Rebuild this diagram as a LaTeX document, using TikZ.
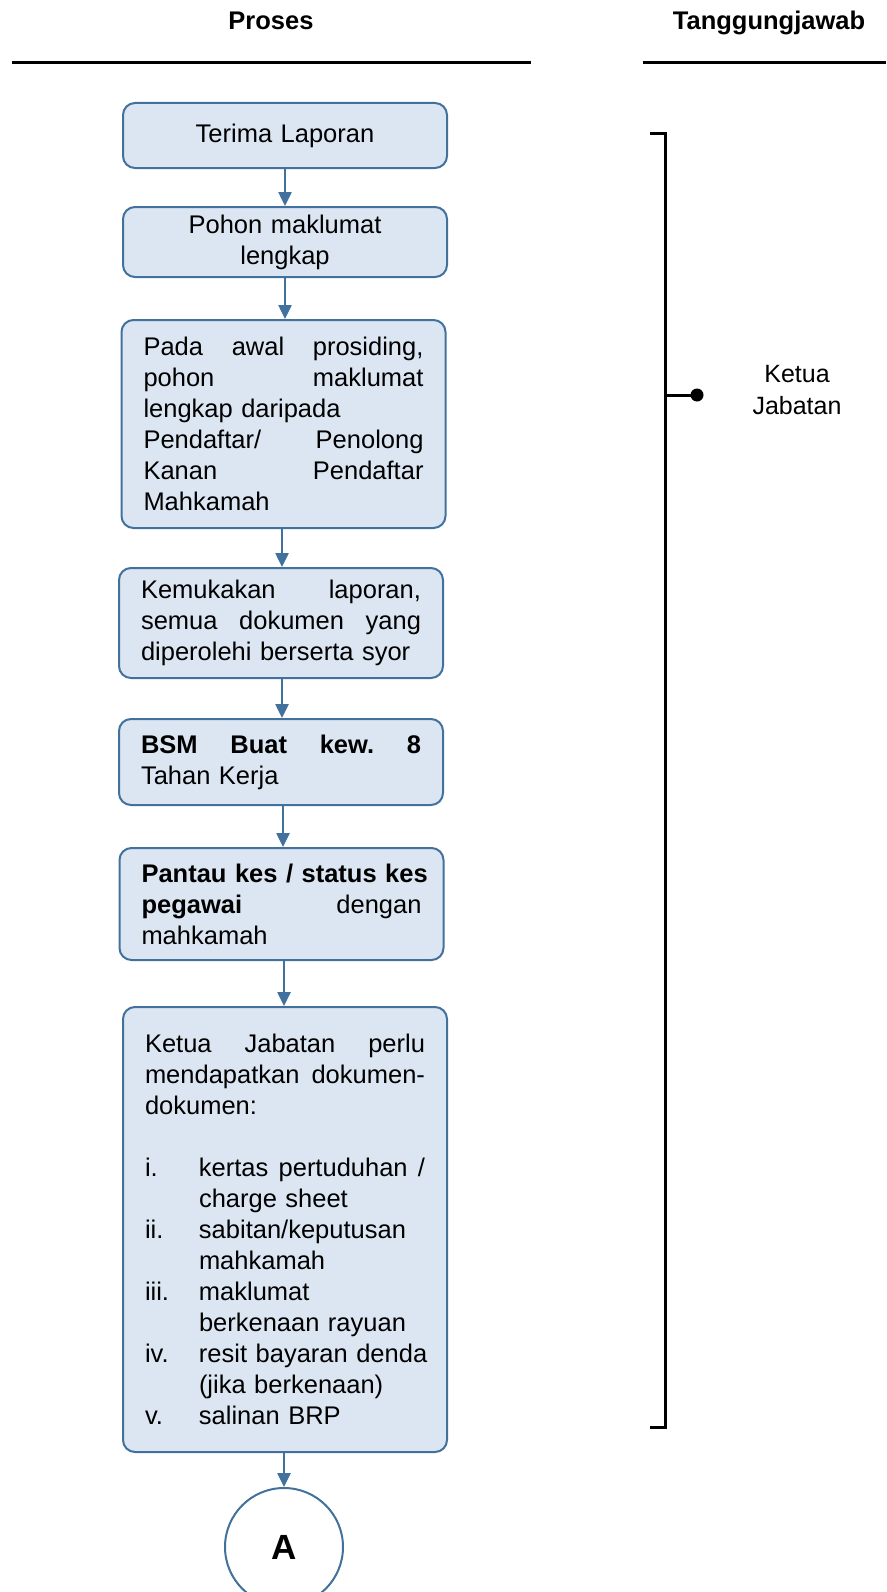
\documentclass[tikz,border=0pt]{standalone}
\usepackage{fontspec}
\setmainfont{Liberation Sans}
\usetikzlibrary{arrows.meta}
\definecolor{boxfill}{HTML}{DCE6F2}
\definecolor{boxline}{HTML}{41719C}
\newcommand\jline[2][\linewidth]{\leavevmode\hbox to #1{#2}}
\newcommand\itemlbl[2]{\leavevmode\hbox to 54pt{#1\hfil}\mbox{#2}}
\newcommand\itemcont[1]{\leavevmode\hspace*{54pt}\mbox{#1}}
\begin{document}
\begin{tikzpicture}[x=1pt,y=-1pt,
  procbox/.style={draw=boxline, fill=boxfill, line width=2pt, rounded corners=12pt,
    text width=280pt, inner xsep=22pt, inner ysep=0pt,
    font=\fontsize{25.5}{31}\selectfont, align=left},
  flow/.style={draw=boxline, line width=2.5pt, -{Triangle[width=13pt,length=14pt]}},
  hdr/.style={font=\bfseries\fontsize{25.5}{31}\selectfont, anchor=base, inner sep=0pt},
  rule/.style={line width=3pt, black}
]
\useasboundingbox (0,0) rectangle (886,1592);
\fill[white] (0,0) rectangle (886,1592);

% headers
\node[hdr] (hp) at (271,30) {Proses};
\node[hdr] (ht) at (769,30) {Tanggungjawab};
\coordinate (l1a) at (12,63); \coordinate (l1b) at (531,63);
\coordinate (l2a) at (643,63); \coordinate (l2b) at (886,63);
\draw[rule] (l1a) -- (l1b);
\draw[rule] (l2a) -- (l2b);

% boxes
\node[procbox, align=center, minimum height=65pt] (b1) at (285,135.5) {Terima Laporan};
\node[procbox, align=center, minimum height=70pt] (b2) at (285,242) {Pohon maklumat\\lengkap};
\node[procbox, minimum height=208pt] (b3) at (283.5,424) {%
\jline{Pada\hfill awal\hfill prosiding,}\\
\jline{pohon\hfill maklumat}\\
lengkap daripada\\
\jline{Pendaftar/\hfill Penolong}\\
\jline{Kanan\hfill Pendaftar}\\
Mahkamah};
\node[procbox, minimum height=110pt] (b4) at (281,623) {%
\jline{Kemukakan\hfill laporan,}\\
\jline{semua\hfill dokumen\hfill yang}\\
diperolehi berserta syor};
\node[procbox, minimum height=86pt] (b5) at (281,762) {%
\jline{\bfseries BSM\hfill Buat\hfill kew.\hfill 8}\\
Tahan Kerja};
\node[procbox, minimum height=112pt] (b6) at (281.5,904) {%
\jline{\bfseries Pantau kes / status kes\hfil}\\
\jline{\textbf{pegawai}\hfill dengan}\\
mahkamah};
\node[procbox, minimum height=445pt] (b7) at (285,1229.5) {%
\jline{Ketua\hfill Jabatan\hfill perlu}\\
\jline{mendapatkan\hfill dokumen-}\\
dokumen:\\[31pt]
\leavevmode\hbox to 54pt{i.\hfil}\hbox to 226pt{kertas\hfill pertuduhan\hfill /}\\
\itemcont{charge sheet}\\
\itemlbl{ii.}{sabitan/keputusan}\\
\itemcont{mahkamah}\\
\itemlbl{iii.}{maklumat}\\
\itemcont{berkenaan rayuan}\\
\itemlbl{iv.}{resit bayaran denda}\\
\itemcont{(jika berkenaan)}\\
\itemlbl{v.}{salinan BRP}};
\node[circle, draw=boxline, fill=white, line width=2pt, minimum size=118pt, inner sep=0pt,
  font=\bfseries\fontsize{35}{40}\selectfont] (cA) at (284,1547) {A};

% arrows
\draw[flow] (b1.south) -- (b1.south |- b2.north);
\draw[flow] (b2.south) -- (b2.south |- b3.north);
\draw[flow] ([xshift=-1.5pt]b3.south) -- ([xshift=-1.5pt]b3.south |- b4.north);
\draw[flow] ([xshift=1pt]b4.south) -- ([xshift=1pt]b4.south |- b5.north);
\draw[flow] ([xshift=2pt]b5.south) -- ([xshift=2pt]b5.south |- b6.north);
\draw[flow] ([xshift=2.5pt]b6.south) -- ([xshift=2.5pt]b6.south |- b7.north);
\draw[flow] ([xshift=-1pt]b7.south) -- ([xshift=-1pt]b7.south |- cA.north);

% responsibility bracket
\coordinate (bt0) at (650,134); \coordinate (bt) at (665,134);
\coordinate (bb) at (665,1427); \coordinate (bb0) at (650,1427);
\coordinate (bm) at (665,395);
\draw[rule] (bt0) -- (bt) -- (bb) -- (bb0);
\node[circle, fill=black, inner sep=0pt, minimum size=13pt] (dot) at (697,395) {};
\draw[rule] (bm) -- (dot.center);
\node[font=\fontsize{25}{32}\selectfont, align=center] (kj) at (797,390) {Ketua\\Jabatan};
\end{tikzpicture}
\end{document}
